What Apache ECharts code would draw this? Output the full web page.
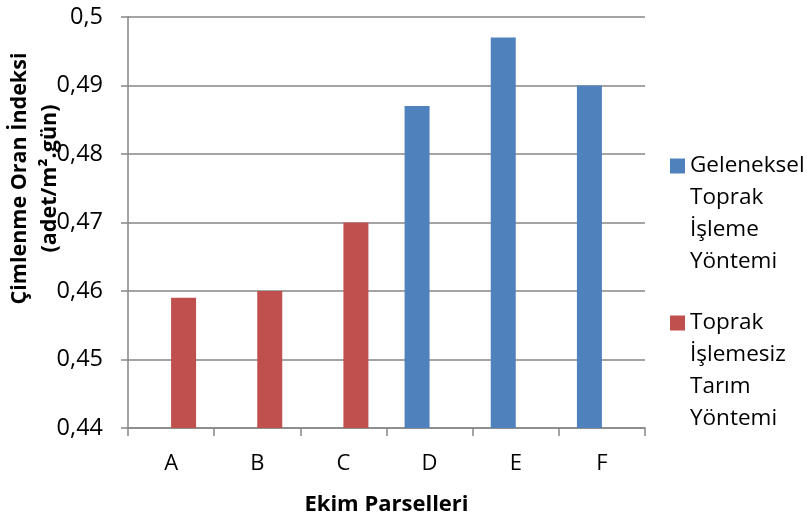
<!DOCTYPE html>
<html>
<head>
<meta charset="utf-8">
<script src="https://cdn.jsdelivr.net/npm/echarts@6/dist/echarts.min.js"></script>
<style>html,body{margin:0;padding:0;background:#fff}#c{width:812px;height:517px}</style>
</head>
<body>
<div id="c"></div>
<script>
const categories = ['A', 'B', 'C', 'D', 'E', 'F'];
const seriesNames = ['Geleneksel Toprak İşleme Yöntemi', 'Toprak İşlemesiz Tarım Yöntemi'];
const legendLines = [['Geleneksel', 'Toprak', 'İşleme', 'Yöntemi'], ['Toprak', 'İşlemesiz', 'Tarım', 'Yöntemi']];
const gelenekselValues = [null, null, null, 0.487, 0.497, 0.490];
const isleme0Values = [0.459, 0.460, 0.470, null, null, null];
const yTickLabels = ['0,44', '0,45', '0,46', '0,47', '0,48', '0,49', '0,5'];
const yAxisTitle = 'Çimlenme Oran İndeksi\n(adet/m².gün)';
const xAxisTitle = 'Ekim Parselleri';

const FONT = 'Open Sans';
const gray = '#868686';
const LH = 32;

const chart = echarts.init(document.getElementById('c'));
function legendFor(i, top) {
  return {
    show: true,
    orient: 'vertical',
    left: 670,
    top: top,
    padding: 0,
    itemWidth: 15,
    itemHeight: 15,
    itemGap: 0,
    icon: 'rect',
    data: [seriesNames[i]],
    formatter: () => '\n\n\n' + legendLines[i].join('\n'),
    textStyle: { fontFamily: FONT, fontSize: 22.5, color: '#000', lineHeight: LH },
    selectedMode: false
  };
}
chart.setOption({
  animation: false,
  textStyle: { fontFamily: FONT },
  grid: { left: 128, right: 167, top: 17, bottom: 89, containLabel: false, outerBoundsMode: 'none' },
  legend: [legendFor(0, 163.5 - LH * 3.5 + 2.5), legendFor(1, 322 - LH * 3.5 + 1)],
  xAxis: {
    type: 'category',
    data: categories,
    name: xAxisTitle,
    nameLocation: 'middle',
    nameGap: 66,
    nameMoveOverlap: false,
    nameTextStyle: { fontFamily: FONT, fontSize: 22, fontWeight: 'bold', color: '#000' },
    axisLine: { lineStyle: { color: gray, width: 1.5 } },
    axisTick: { show: true, length: 8, lineStyle: { color: gray, width: 1.5 } },
    axisLabel: { fontFamily: FONT, fontSize: 22, color: '#000', margin: 25 }
  },
  yAxis: {
    type: 'value',
    min: 0.44,
    max: 0.5,
    interval: 0.01,
    name: yAxisTitle,
    nameLocation: 'middle',
    nameGap: 63,
    nameMoveOverlap: false,
    nameTextStyle: { fontFamily: FONT, fontSize: 21.5, fontWeight: 'bold', color: '#000', lineHeight: 30, padding: [0, 0, 0, 88] },
    axisLine: { show: true, lineStyle: { color: gray, width: 1.5 } },
    axisTick: { show: true, length: 7, lineStyle: { color: gray, width: 1.5 } },
    splitLine: { show: true, lineStyle: { color: gray, width: 1.5 } },
    axisLabel: {
      fontFamily: FONT, fontSize: 23.5, color: '#000', margin: 25,
      formatter: (v, i) => yTickLabels[i]
    }
  },
  series: [
    {
      name: seriesNames[0], type: 'bar', data: gelenekselValues,
      barWidth: 25, barGap: '0%', itemStyle: { color: '#4F81BD' }
    },
    {
      name: seriesNames[1], type: 'bar', data: isleme0Values,
      barWidth: 25, barGap: '0%', itemStyle: { color: '#C0504D' }
    }
  ]
});
</script>
</body>
</html>
